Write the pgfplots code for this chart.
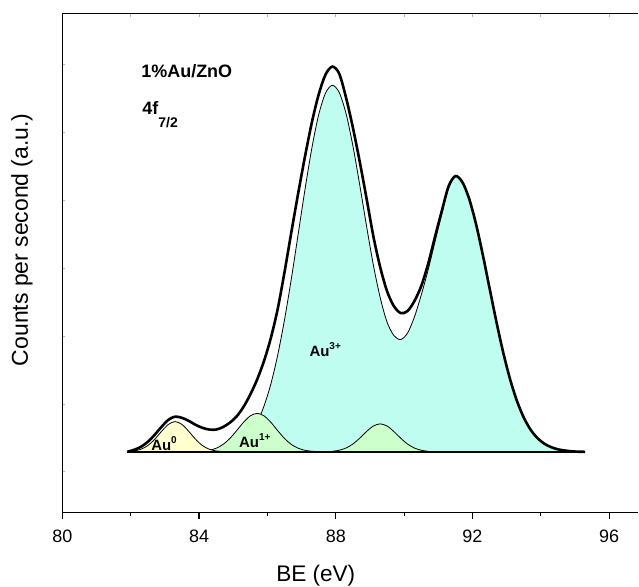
\documentclass[border=0pt]{standalone}
\usepackage{fontspec}
\setmainfont{Liberation Sans}
\usepackage{pgfplots}
\usepackage{pgfplotstable}
\pgfplotsset{compat=1.18}
\definecolor{cyanfill}{RGB}{190,253,240}
\definecolor{greenfill}{RGB}{204,255,204}
\definecolor{yellowfill}{RGB}{255,255,208}

\pgfplotstableread{
x y
83.9 0.1
84.1 0.2
84.3 0.4
84.5 0.9
84.7 1.8
84.9 3.4
85.1 6.2
85.3 10.9
85.5 18.3
85.7 29.5
85.9 45.8
86.1 67.9
86.3 96.8
86.5 132.3
86.7 173.4
86.9 218.1
87.1 263.0
87.3 304.3
87.5 337.7
87.7 359.4
87.9 367.3
88.1 360.1
88.3 339.0
88.5 306.8
88.7 267.7
88.9 226.3
89.1 187.2
89.3 154.5
89.5 130.0
89.7 116.5
89.9 112.5
90.1 119.0
90.3 135.0
90.5 157.0
90.7 182.0
90.9 210.0
91.1 238.0
91.3 264.0
91.5 276.0
91.7 270.5
91.9 253.9
92.1 228.8
92.3 197.8
92.5 164.0
92.7 130.4
92.9 99.5
93.1 72.8
93.3 51.1
93.5 34.4
93.7 22.2
93.9 13.8
94.1 8.2
94.3 4.7
94.5 2.5
94.7 1.3
94.9 0.7
95.1 0.3
}\authree

\pgfplotstableread{
x y
83.9 0.18
84.1 0.56
84.3 1.51
84.5 3.57
84.7 7.37
84.9 13.37
85.1 21.24
85.3 29.55
85.5 36.04
85.7 38.5
85.9 36.04
86.1 29.55
86.3 21.24
86.5 13.37
86.7 7.37
86.9 3.57
87.1 1.51
87.3 0.56
87.5 0.18
}\auone

\pgfplotstableread{
x y
87.9 0.55
88.1 1.57
88.3 3.79
88.5 7.78
88.7 13.63
88.9 20.33
89.1 25.85
89.3 28.0
89.5 25.85
89.7 20.33
89.9 13.63
90.1 7.78
90.3 3.79
90.5 1.57
90.7 0.55
}\auonebis

\pgfplotstableread{
x y
81.9 0.24
82.1 0.87
82.3 2.57
82.5 6.24
82.7 12.5
82.9 20.4
83.1 27.4
83.3 30.3
83.5 27.4
83.7 20.4
83.9 12.5
84.1 6.24
84.3 2.57
84.5 0.87
84.7 0.24
}\auzero

\pgfplotstableread{
x y
81.9 0
82.1 2
82.3 5
82.5 10
82.7 17
82.9 25
83.1 32
83.3 35.3
83.5 34
83.7 31
83.9 27
84.1 24
84.3 22.3
84.5 22.3
84.7 24.8
84.9 29.2
85.1 35.5
85.3 45
85.5 57.5
85.7 72.5
85.9 91
86.1 114
86.3 143
86.5 180
86.7 220
86.9 259
87.1 296
87.3 330
87.5 358
87.7 378
87.9 386
88.1 379
88.3 355
88.5 325
88.7 291
88.9 254
89.1 216
89.3 185
89.5 161
89.7 146
89.9 139
90.1 141
90.3 151
90.5 166
90.7 188
90.9 215
91.1 241
91.3 266
91.5 276.3
91.7 270.5
91.9 253.9
92.1 228.8
92.3 197.8
92.5 164.0
92.7 130.4
92.9 99.5
93.1 72.8
93.3 51.1
93.5 34.4
93.7 22.2
93.9 13.8
94.1 8.2
94.3 4.7
94.5 2.5
94.7 1.3
94.9 0.5
95.1 0.1
95.3 0
}\envelope

\begin{document}
\begin{tikzpicture}
\begin{axis}[
  scale only axis,
  width=288.5pt, height=250pt,
  xmin=80, xmax=96.85, ymin=-61, ymax=439,
  axis x line*=bottom, axis y line*=left,
  axis line style={line width=0.8pt, -},
  xtick={80,84,88,92,96},
  minor xtick={82,86,90,94},
  ytick=\empty,
  tick align=outside,
  major tick length=3.3pt, minor tick length=1.8pt,
  tick style={black, line width=0.6pt},
  /pgf/number format/assume math mode=true,
  ticklabel style={font=\fontsize{9}{10}\selectfont},
  xticklabel style={yshift=-2pt},
  xlabel={BE (eV)},
  xlabel style={font=\fontsize{11.3}{13}\selectfont, inner sep=0pt, at={(axis description cs:0.44,-0.126)}, anchor=center},
  ylabel={Counts per second (a.u.)},
  ylabel style={font=\fontsize{11.5}{13}\selectfont, inner sep=0pt, at={(axis description cs:-0.0702,0.547)}, anchor=center},
]
\addplot[smooth, fill=cyanfill, draw=black, line width=0.4pt] table {\authree} \closedcycle;
\addplot[smooth, fill=greenfill, draw=black, line width=0.4pt] table {\auone} \closedcycle;
\addplot[smooth, fill=greenfill, draw=black, line width=0.4pt] table {\auonebis} \closedcycle;
\addplot[smooth, fill=yellowfill, draw=black, line width=0.4pt] table {\auzero} \closedcycle;
\addplot[black, line width=0.9pt] coordinates {(81.9,0) (95.28,0)};
\addplot[smooth, black, line width=1.3pt] table {\envelope};
\node[anchor=base west, inner sep=0, font=\fontsize{9}{10}\selectfont\bfseries] at (axis cs:82.30,375.3) {1\%Au/ZnO};
\node[anchor=base west, inner sep=0, font=\fontsize{9}{10}\selectfont\bfseries] at (axis cs:82.33,338.3) {4f\raisebox{-6.5pt}{\fontsize{7}{8}\selectfont 7/2}};
\node[anchor=base west, inner sep=0, font=\fontsize{7.5}{8}\selectfont\bfseries] at (axis cs:82.59,1.5) {Au\raisebox{3.5pt}{\fontsize{5}{6}\selectfont 0}};
\node[anchor=base west, inner sep=0, font=\fontsize{7.5}{8}\selectfont\bfseries] at (axis cs:85.16,4.3) {Au\raisebox{3.5pt}{\fontsize{5}{6}\selectfont 1+}};
\node[anchor=base west, inner sep=0, font=\fontsize{7.5}{8}\selectfont\bfseries] at (axis cs:87.22,96) {Au\raisebox{3.5pt}{\fontsize{5}{6}\selectfont 3+}};
\end{axis}
\begin{axis}[
  scale only axis,
  width=288.5pt, height=250pt,
  xmin=80, xmax=96.85, ymin=-61, ymax=439,
  axis x line*=top, axis y line*=left,
  axis line style={line width=0.8pt, -},
  xtick={82,84,86,88,90,92,94,96},
  xticklabels={},
  ytick={-20,48,116,184,252,320,388},
  yticklabels={},
  tick align=inside,
  major tick length=1.5pt,
  tick style={gray!60, line width=0.4pt},
]
\end{axis}
\path (current axis.south west) ++(-31.25pt,-36pt) coordinate (bl);
\path (current axis.north east) ++(0pt,6pt) coordinate (tr);
\useasboundingbox (bl) rectangle (tr);
\end{tikzpicture}
\end{document}
